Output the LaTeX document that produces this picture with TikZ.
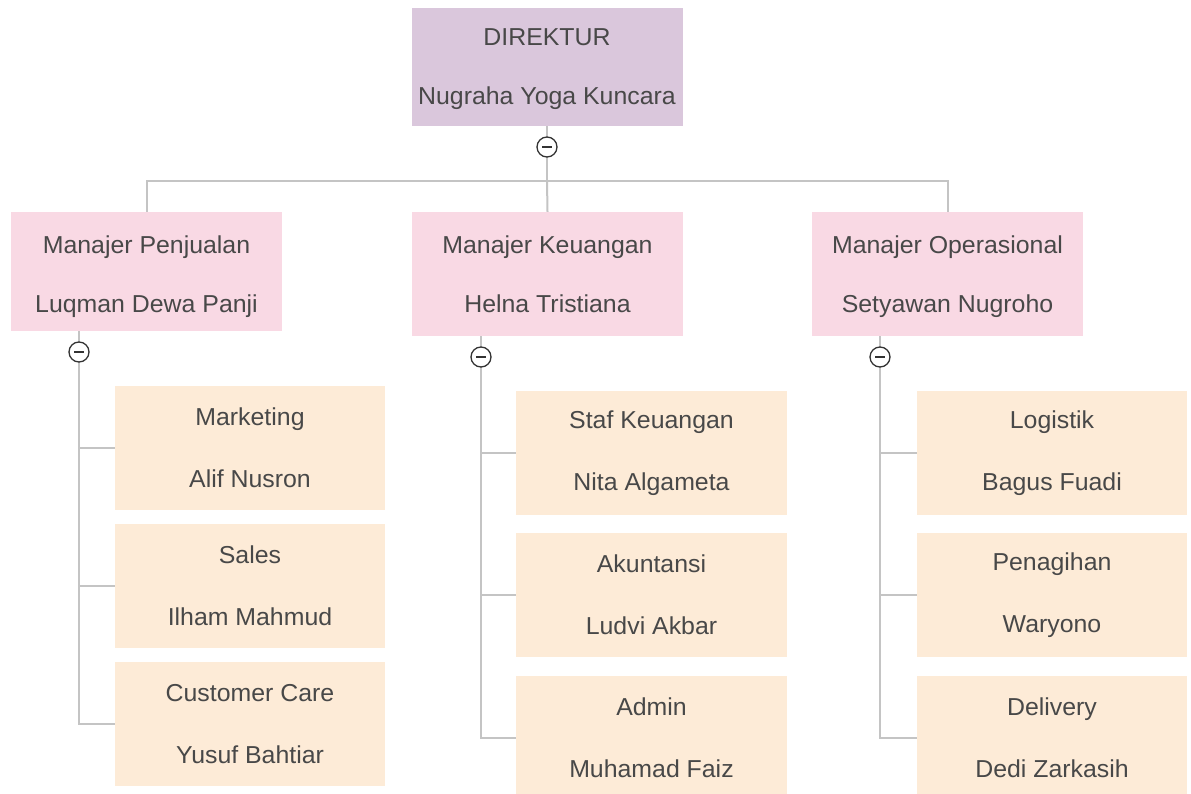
\documentclass[tikz,border=0pt]{standalone}
\usepackage{fontspec}
\setmainfont[FakeStretch=1.015]{Liberation Sans}
\definecolor{dirfill}{HTML}{DAC7DC}
\definecolor{mgrfill}{HTML}{F9D9E4}
\definecolor{stafffill}{HTML}{FDEBD7}
\definecolor{txt}{HTML}{484848}
\definecolor{wire}{HTML}{C4C4C4}
\definecolor{knob}{HTML}{333333}
\tikzset{
  box/.style={rectangle, inner sep=0pt, align=center, text=txt},
  dirbox/.style={box, fill=dirfill, minimum width=271pt, minimum height=118pt,
    text depth=0pt, font=\fontsize{24.5}{59}\selectfont},
  mgrbox/.style={box, fill=mgrfill, minimum width=271pt, minimum height=124pt,
    text depth=0pt, font=\fontsize{24.5}{59}\selectfont},
  mgrtext/.style={box, text depth=0pt, font=\fontsize{24.5}{59}\selectfont},
  staffbox/.style={box, fill=stafffill, minimum width=271pt, minimum height=124pt,
    font=\fontsize{24.5}{62}\selectfont},
  wireline/.style={draw=wire, line width=2pt},
  toggle/.style={circle, draw=knob, fill=white, line width=1.3pt, minimum size=20pt,
    inner sep=0pt,
    path picture={\draw[knob, line width=1.3pt]
      ([xshift=-5pt]path picture bounding box.center) --
      ([xshift=5pt]path picture bounding box.center);}}
}
\begin{document}
\begin{tikzpicture}[x=1pt, y=-1pt]
\useasboundingbox (0,0) rectangle (1191,794);
\clip (0,0) rectangle (1191,794);
\fill[white] (0,0) rectangle (1191,794);

% director
\node[dirbox] (dir) at (547,67) {DIREKTUR\\Nugraha Yoga Kuncara};

% managers (the sales box is a little shorter, its text sits level with the others)
\node[mgrbox, minimum height=119pt] (mgrA) at (146.5,271.5) {};
\node[mgrtext] (mgrAtext) at (146.5,274) {Manajer Penjualan\\Luqman Dewa Panji};
\node[mgrbox] (mgrB) at (547.5,274) {Manajer Keuangan\\Helna Tristiana};
\node[mgrbox] (mgrC) at (947.5,274) {Manajer Operasional\\Setyawan Nugroho};

% sales staff
\node[staffbox, minimum width=270pt] (a1) at (250,448) {Marketing\\Alif Nusron};
\node[staffbox, minimum width=270pt] (a2) at (250,586) {Sales\\Ilham Mahmud};
\node[staffbox, minimum width=270pt] (a3) at (250,724) {Customer Care\\Yusuf Bahtiar};

% finance staff
\node[staffbox] (b1) at (651.5,453) {Staf Keuangan\\Nita Algameta};
\node[staffbox] (b2) at (651.5,595) {Akuntansi\\Ludvi Akbar};
\node[staffbox] (b3) at (651.5,738) {Admin\\Muhamad Faiz};

% operations staff
\node[staffbox, minimum width=270pt] (c1) at (1052,453) {Logistik\\Bagus Fuadi};
\node[staffbox, minimum width=270pt] (c2) at (1052,595) {Penagihan\\Waryono};
\node[staffbox, minimum width=270pt] (c3) at (1052,738) {Delivery\\Dedi Zarkasih};

% collapse toggles
\coordinate (t0) at (547,147);
\coordinate (tA) at (79,352);
\coordinate (tB) at (481,357);
\coordinate (tC) at (880,357);
\coordinate (bus) at (547,181);

% director to managers
\draw[wireline] (dir.south) -- (bus);
\draw[wireline] (mgrA.north) |- (bus) -| (mgrC.north);
\draw[wireline] (bus) -- (mgrB.north);

% managers to staff
\draw[wireline] (mgrA.south -| tA) |- (a3.west);
\draw[wireline] (tA |- a1.west) -- (a1.west);
\draw[wireline] (tA |- a2.west) -- (a2.west);

\draw[wireline] (mgrB.south -| tB) |- (b3.west);
\draw[wireline] (tB |- b1.west) -- (b1.west);
\draw[wireline] (tB |- b2.west) -- (b2.west);

\draw[wireline] (mgrC.south -| tC) |- (c3.west);
\draw[wireline] (tC |- c1.west) -- (c1.west);
\draw[wireline] (tC |- c2.west) -- (c2.west);

\node[toggle] (k0) at (t0) {};
\node[toggle] (kA) at (tA) {};
\node[toggle] (kB) at (tB) {};
\node[toggle] (kC) at (tC) {};
\end{tikzpicture}
\end{document}
